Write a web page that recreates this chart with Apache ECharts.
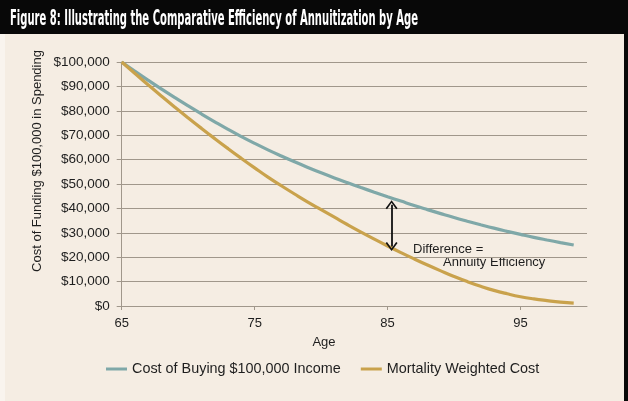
<!DOCTYPE html>
<html><head><meta charset="utf-8">
<script src="https://cdn.jsdelivr.net/npm/echarts@6/dist/echarts.min.js"></script>
<style>html,body{margin:0;padding:0;background:#f5ede3}#c{width:628px;height:401px}</style>
</head><body><div id="c"></div>
<script>
const titleText = 'Figure 8: Illustrating the Comparative Efficiency of Annuitization by Age';
const xAxisName = 'Age';
const yAxisName = 'Cost of Funding $100,000 in Spending';
const seriesNames = ['Cost of Buying $100,000 Income', 'Mortality Weighted Cost'];
const ages = [65,66,67,68,69,70,71,72,73,74,75,76,77,78,79,80,81,82,83,84,85,86,87,88,89,90,91,92,93,94,95,96,97,98,99];
const buyingIncome = [100000,96200,92500,88900,85400,82000,78700,75500,72400,69450,66650,64000,61500,59100,56800,54600,52500,50500,48550,46650,44800,43000,41200,39500,37850,36250,34750,33300,31900,30600,29350,28150,27050,26000,25000];
const mortalityWeighted = [100000,95300,90600,86000,81500,77100,72800,68600,64500,60500,56600,52800,49300,45900,42600,39500,36400,33300,30300,27400,24600,21900,19300,16800,14400,12100,10000,8100,6400,5000,3800,2900,2200,1600,1200];
const xTickAges = [65, 75, 85, 95];
const arrowAge = 85.3;
const arrowTop = 41500;
const arrowBottom = 24400;
const annotationLines = ['Difference =', 'Annuity Efficiency'];

const chart = echarts.init(document.getElementById('c'), null, {renderer: 'canvas'});

const titleFont = '"DejaVu Sans Condensed", "DejaVu Sans", sans-serif';
const ctx = document.createElement('canvas').getContext('2d');
ctx.font = 'bold 21px ' + titleFont;
const titleScale = 408 / ctx.measureText(titleText).width;

const fmtMoney = v => '$' + Math.round(v).toString().replace(/\B(?=(\d{3})+(?!\d))/g, ',');
const chevron = 'path://M5,0 L10,8 L8.8,9 L5,2.4 L1.2,9 L0,8 Z';
const gridColor = '#a0978b';
const textFont = '"Liberation Sans", Arial, sans-serif';

chart.setOption({
  backgroundColor: '#f5ede3',
  animation: false,
  grid: {left: 121.7, right: 41, top: 62, bottom: 95, containLabel: false},
  legend: {
    left: 106, top: 362, padding: 0, icon: 'rect', itemWidth: 21, itemHeight: 3, itemGap: 20,
    textStyle: {fontSize: 14.4, color: '#1e1e1e', fontFamily: textFont},
    data: seriesNames
  },
  xAxis: {
    type: 'value', min: 65, max: 100,
    axisLine: {show: true, lineStyle: {color: gridColor, width: 1}},
    axisTick: {show: true, length: 4, customValues: xTickAges, lineStyle: {color: gridColor}},
    axisLabel: {customValues: xTickAges, fontSize: 13, color: '#1e1e1e', margin: 11, fontFamily: textFont},
    splitLine: {show: false}
  },
  yAxis: {
    type: 'value', min: 0, max: 100000, interval: 10000,
    axisLine: {show: true, lineStyle: {color: gridColor, width: 1}},
    axisTick: {show: true, length: 5, lineStyle: {color: gridColor}},
    axisLabel: {formatter: fmtMoney, fontSize: 13.5, color: '#1e1e1e', margin: 12, fontFamily: textFont},
    splitLine: {show: true, lineStyle: {color: gridColor, width: 1}}
  },
  series: [
    {
      name: seriesNames[0], type: 'line', showSymbol: false, smooth: true,
      data: ages.map((a, i) => [a, buyingIncome[i]]),
      itemStyle: {color: '#7fa8a8'},
      lineStyle: {color: '#7fa8a8', width: 3.2}
    },
    {
      name: seriesNames[1], type: 'line', showSymbol: false, smooth: true,
      data: ages.map((a, i) => [a, mortalityWeighted[i]]),
      itemStyle: {color: '#c9a24c'},
      lineStyle: {color: '#c9a24c', width: 3.2},
      markLine: {
        silent: true, animation: false,
        symbol: [chevron, chevron], symbolSize: [12, 9],
        lineStyle: {color: '#111', width: 1.8, type: 'solid'},
        itemStyle: {color: '#111'},
        label: {show: false},
        data: [[{coord: [arrowAge, arrowTop]}, {coord: [arrowAge, arrowBottom]}]]
      }
    }
  ],
  graphic: [
    {type: 'rect', left: 0, top: 0, shape: {width: 628, height: 34}, style: {fill: '#080808'}, z: 10},
    {type: 'rect', left: 624, top: 0, shape: {width: 4, height: 401}, style: {fill: '#080808'}, z: 10},
    {type: 'rect', left: 0, top: 34, shape: {width: 5, height: 367}, style: {fill: '#f9f4ee'}, z: -1},
    {type: 'text', x: 10, y: 20, scaleX: titleScale, z: 11,
      style: {text: titleText, fill: '#ffffff', fontSize: 21, fontWeight: 'bold', fontFamily: titleFont, verticalAlign: 'middle'}},
    {type: 'text', x: 37, y: 161, rotation: Math.PI / 2,
      style: {text: yAxisName, fill: '#1e1e1e', fontSize: 13, fontFamily: textFont, align: 'center', verticalAlign: 'middle'}},
    {type: 'text', x: 324, y: 342,
      style: {text: xAxisName, fill: '#1e1e1e', fontSize: 13, fontFamily: textFont, align: 'center', verticalAlign: 'middle'}},
    {type: 'text', x: 413, y: 249,
      style: {text: annotationLines[0], fill: '#1e1e1e', fontSize: 13, fontFamily: textFont, verticalAlign: 'middle'}},
    {type: 'text', x: 443, y: 262,
      style: {text: annotationLines[1], fill: '#1e1e1e', fontSize: 13, fontFamily: textFont, verticalAlign: 'middle'}}
  ]
});
</script>
</body></html>
